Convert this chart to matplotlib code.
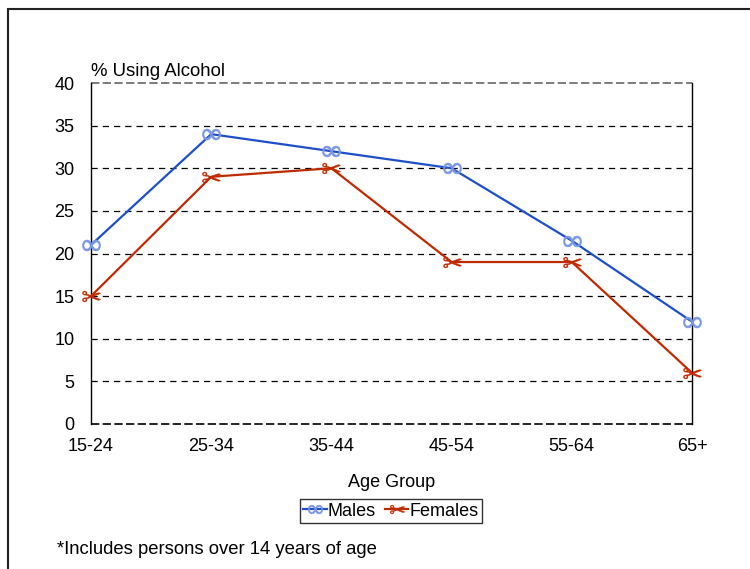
import matplotlib
matplotlib.use("Agg")
import matplotlib.pyplot as plt
from matplotlib.patches import Rectangle

plt.rcParams['font.family'] = ['Liberation Sans', 'DejaVu Sans']

age_groups = ["15-24", "25-34", "35-44", "45-54", "55-64", "65+"]
males = [21, 34, 32, 30, 21.5, 12]
females = [15, 29, 30, 19, 19, 6]
yticks = [0, 5, 10, 15, 20, 25, 30, 35, 40]

fig = plt.figure(figsize=(7.5, 5.69), dpi=100)
ax = fig.add_axes([91/750, 1-424/569, 601/750, 341/569])

x = list(range(len(age_groups)))
blue = "#1f4fc8"
red = "#c02a00"
ax.plot(x, males, color=blue, lw=1.6, zorder=3, label="Males",
        marker=r'$\infty$', markersize=13, markeredgewidth=0.4,
        markerfacecolor="#7896e4", markeredgecolor="#7896e4", clip_on=False)
ax.plot(x, females, color=red, lw=1.6, zorder=3, label="Females",
        marker='$\u2702$', markersize=13, markeredgewidth=0.3,
        markerfacecolor=red, markeredgecolor=red, clip_on=False)

ax.set_xlim(0, len(age_groups)-1)
ax.set_ylim(0, 40)
ax.set_yticks(yticks)
ax.set_xticks(x)
ax.set_xticklabels(age_groups)
for yv in yticks[1:-1]:
    ax.axhline(yv, color="black", lw=0.9, ls=(0, (5, 4)), zorder=1)
ax.axhline(0, color="black", lw=1.2, ls=(0, (5, 2)), zorder=1, clip_on=False)
ax.axhline(40, color="#666666", lw=1.2, ls=(0, (5, 2)), zorder=1, clip_on=False)
ax.spines['top'].set_visible(False)
ax.spines['bottom'].set_visible(False)
ax.tick_params(axis='y', length=0, labelsize=13, pad=12)
ax.tick_params(axis='x', length=0, labelsize=13, pad=10)
for s in ax.spines.values():
    s.set_color("black")
    s.set_linewidth(1.0)
ax.set_xlabel("Age Group", fontsize=13, labelpad=14)
ax.text(0, 1.01, "% Using Alcohol", transform=ax.transAxes, fontsize=13.4,
        ha='left', va='bottom')

leg = fig.legend(loc='center', bbox_to_anchor=(391/750, 1-511/569), ncol=2,
                 fontsize=13, frameon=True, fancybox=False, handlelength=1.3,
                 handletextpad=0.05, columnspacing=0.5, borderpad=0.2,
                 markerscale=0.8)
leg.get_frame().set_edgecolor("black")
leg.get_frame().set_linewidth(1.0)

fig.text(57/750, 1-549/569, "*Includes persons over 14 years of age",
         fontsize=13.3, ha='left', va='center')

fig.patches.append(Rectangle((8/750, -0.05), 1.1, 1-9/569+0.05,
                             transform=fig.transFigure, fill=False,
                             edgecolor="#222222", lw=1.5))

fig.savefig("out.png", dpi=100)
